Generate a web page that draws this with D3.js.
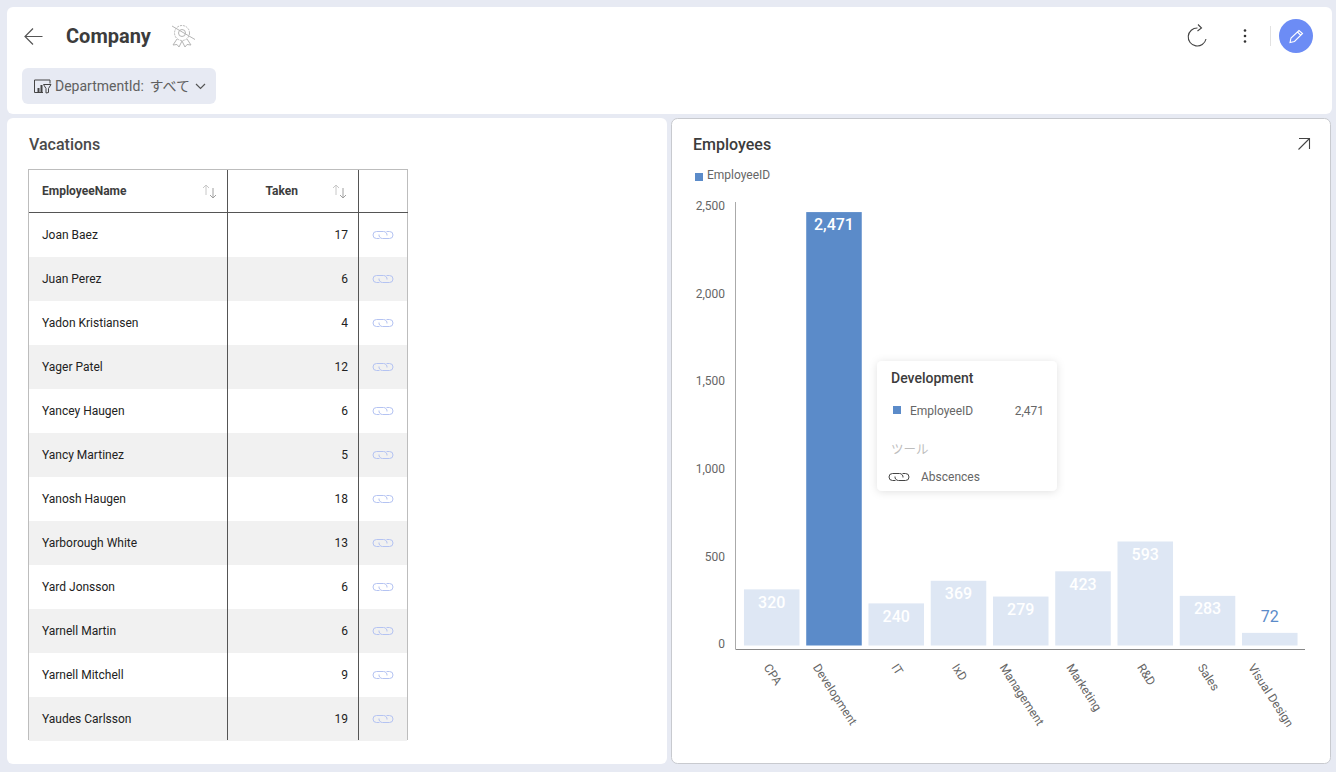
<!DOCTYPE html>
<html><head><meta charset="utf-8">
<script src="https://cdnjs.cloudflare.com/ajax/libs/d3/7.8.5/d3.min.js"></script>
<style>
html,body{margin:0;padding:0;background:#e7eaf3;overflow:hidden}
svg{display:block}
text{font-family:Roboto,"Noto Sans CJK JP",sans-serif}
</style></head><body><svg id="c" width="1336" height="772"></svg>
<script>
const categories=["CPA","Development","IT","IxD","Management","Marketing","R&D","Sales","Visual Design"];
const employeeValues=[320,2471,240,369,279,423,593,283,72];
const yTicks=[0,500,1000,1500,2000,2500];
const employeeNames=["Joan Baez","Juan Perez","Yadon Kristiansen","Yager Patel","Yancey Haugen","Yancy Martinez","Yanosh Haugen","Yarborough White","Yard Jonsson","Yarnell Martin","Yarnell Mitchell","Yaudes Carlsson"];
const taken=[17,6,4,12,6,5,18,13,6,6,9,19];
const highlighted="Development";

const svg=d3.select("#c");
const T=(s,x,y,t,o={})=>s.append("text").attr("x",x).attr("y",y).text(t)
  .attr("font-size",o.size||12).attr("fill",o.fill||"#555").attr("font-weight",o.weight||400)
  .attr("text-anchor",o.anchor||"start").attr("dominant-baseline","central");
const linkIcon=(s,cx,cy,color)=>{
  s.append("path").attr("fill","none").attr("stroke",color).attr("stroke-width",1)
   .attr("d",`M${cx+4} ${cy+0.5}A3.5 3.5 0 0 0 ${cx+0.5} ${cy-3.5}H${cx-6.5}A3.5 3.5 0 0 0 ${cx-6.5} ${cy+3.5}H${cx-3.5}`+
             `M${cx-4} ${cy-0.5}A3.5 3.5 0 0 0 ${cx-0.5} ${cy+3.5}H${cx+6.5}A3.5 3.5 0 0 0 ${cx+6.5} ${cy-3.5}H${cx+3.5}`);
};

// panels
svg.append("rect").attr("x",7).attr("y",7).attr("width",1325).attr("height",107).attr("rx",6).attr("fill","#fff");
svg.append("rect").attr("x",7).attr("y",118).attr("width",660).attr("height",646).attr("rx",6).attr("fill","#fff");
svg.append("rect").attr("x",671.5).attr("y",118.5).attr("width",659).attr("height",645).attr("rx",6).attr("fill","#fff").attr("stroke","#c8cacf");

// header
const hdr=svg.append("g");
hdr.append("path").attr("d","M42.5 36.5H25M33 28.5L25 36.5L33 44.5").attr("fill","none").attr("stroke","#555").attr("stroke-width",1.2);
T(hdr,66,36,"Company",{size:20,weight:700,fill:"#3c3c3c"});
const badge=hdr.append("g").attr("fill","none").attr("stroke","#b5b5b5").attr("stroke-width",1);
badge.append("circle").attr("cx",182).attr("cy",33).attr("r",7.5).attr("stroke-dasharray","2 1");
badge.append("circle").attr("cx",182).attr("cy",33).attr("r",3.5);
badge.append("path").attr("d","M177 39L173 45L177 44.5L179 47L182 41L185 47L187 44.5L191 45L187 39M172 26L195 39.5");
// filter chip
hdr.append("rect").attr("x",22).attr("y",68).attr("width",194).attr("height",36).attr("rx",6).attr("fill","#e7eaf3");
const fi=hdr.append("g").attr("fill","none").attr("stroke","#444").attr("stroke-width",1);
fi.append("path").attr("d","M43 92.5H34.5V80H50V83.5");
fi.append("path").attr("d","M43.5 84.5H51L48.5 88.5V92.5L46 93V88.5Z");
fi.append("path").attr("d","M38.5 92V88M41.5 92V85").attr("stroke-width",2);
T(hdr,55,86,"DepartmentId:",{size:14,fill:"#606060"});
T(hdr,149.5,85.5,"すべて",{size:14,fill:"#606060"});
hdr.append("path").attr("d","M196 84L200.5 88.5L205 84").attr("fill","none").attr("stroke","#555").attr("stroke-width",1.2);
// right icons
hdr.append("path").attr("d","M1197.5 28A9 9 0 1 0 1206 39M1198 24.5L1201.5 28L1197.5 31").attr("fill","none").attr("stroke","#444").attr("stroke-width",1.1);
hdr.selectAll("circle.dot").data([30.5,36,41.5]).join("circle").attr("class","dot").attr("cx",1245).attr("cy",d=>d).attr("r",1.3).attr("fill","#333");
hdr.append("line").attr("x1",1270.5).attr("x2",1270.5).attr("y1",26).attr("y2",46).attr("stroke","#e2e2e2");
hdr.append("circle").attr("cx",1296).attr("cy",36).attr("r",17).attr("fill","#6c8cf5");
hdr.append("path").attr("d","M1290 42.5L1291 38L1299 30.5L1302.5 33.5L1294.5 41.5ZM1297.5 32L1301 35.5").attr("fill","none").attr("stroke","#fff").attr("stroke-width",1.1);

// vacations
T(svg,29,144.5,"Vacations",{size:16,weight:500,fill:"#4a4a4a"});
const rowH=44,firstY=213,tableBottom=740;
const rows=svg.append("g");
rows.selectAll("rect").data(employeeNames).join("rect")
  .attr("x",29).attr("width",378).attr("y",(d,i)=>firstY+i*rowH).attr("height",rowH)
  .attr("fill",(d,i)=>i%2?"#f1f1f1":"#fff");
rows.selectAll("text.n").data(employeeNames).join("text").attr("class","n")
  .attr("x",42).attr("y",(d,i)=>firstY+i*rowH+22).attr("dominant-baseline","central")
  .attr("font-size",12).attr("fill","#222").text(d=>d);
rows.selectAll("text.v").data(taken).join("text").attr("class","v")
  .attr("x",348).attr("y",(d,i)=>firstY+i*rowH+22).attr("dominant-baseline","central").attr("text-anchor","end")
  .attr("font-size",12).attr("fill","#222").text(d=>d);
taken.forEach((d,i)=>linkIcon(rows,383,firstY+i*rowH+22,"#b4c3f2"));
const tl=svg.append("g").attr("shape-rendering","crispEdges");
tl.append("path").attr("d",`M28.5 ${tableBottom}V169.5H407.5V${tableBottom}`).attr("fill","none").attr("stroke","#bdbdbd");
tl.append("line").attr("x1",28.5).attr("x2",407.5).attr("y1",212.5).attr("y2",212.5).attr("stroke","#555");
[227.5,358.5].forEach(x=>tl.append("line").attr("x1",x).attr("x2",x).attr("y1",169.5).attr("y2",tableBottom).attr("stroke","#555"));
T(svg,42,191,"EmployeeName",{size:12,weight:700,fill:"#3d3d3d"});
T(svg,298,191,"Taken",{size:12,weight:700,fill:"#3d3d3d",anchor:"end"});
[203,333].forEach(x=>{
  svg.append("path").attr("d",`M${x+3} 195V185M${x} 188L${x+3} 185L${x+6} 188`).attr("fill","none").attr("stroke","#c8c8c8");
  svg.append("path").attr("d",`M${x+10} 188V198M${x+7} 195L${x+10} 198L${x+13} 195`).attr("fill","none").attr("stroke","#a0a0a0");
});

// employees chart
T(svg,693,144.5,"Employees",{size:16,weight:500,fill:"#3c3c3c"});
svg.append("path").attr("d","M1298.5 149.5L1309 139M1299 138.5H1309.5V149").attr("fill","none").attr("stroke","#444").attr("stroke-width",1.1);
svg.append("rect").attr("x",695).attr("y",173).attr("width",8).attr("height",8).attr("fill","#5b8bc9");
T(svg,707,174.5,"EmployeeID",{size:12,fill:"#666"});

const x=d3.scaleBand().domain(categories).range([740.6,1300.9]).paddingInner(0.108).paddingOuter(0.054);
const y=d3.scaleLinear().domain([0,2500]).range([645.5,207]);
const fmt=d3.format(",");

svg.append("g").selectAll("text").data(yTicks).join("text")
  .attr("x",725).attr("y",d=>y(d)-1.2).attr("text-anchor","end").attr("dominant-baseline","central")
  .attr("font-size",12).attr("fill","#666").text(fmt);

svg.append("g").selectAll("rect").data(categories).join("rect")
  .attr("x",d=>x(d)).attr("width",x.bandwidth())
  .attr("y",(d,i)=>y(employeeValues[i])).attr("height",(d,i)=>y(0)-y(employeeValues[i]))
  .attr("fill",d=>d===highlighted?"#5b8bc9":"#dee7f4");

svg.append("g").selectAll("text").data(categories).join("text")
  .attr("x",d=>x(d)+x.bandwidth()/2)
  .attr("y",(d,i)=>employeeValues[i]<100?y(employeeValues[i])-16:y(employeeValues[i])+12.8)
  .attr("text-anchor","middle").attr("dominant-baseline","central").attr("font-size",16)
  .attr("font-weight",(d,i)=>employeeValues[i]<100?400:500)
  .attr("fill",(d,i)=>employeeValues[i]<100?"#5b8bc9":"#fff")
  .text((d,i)=>fmt(employeeValues[i]));

svg.append("path").attr("d","M735.5 202V649").attr("stroke","#aaa").attr("fill","none");
svg.append("path").attr("d","M735.5 649.5H1305").attr("stroke","#888").attr("fill","none");

// rotated category labels: each label's horizontal extent is centred on its band
const labelAngle=57;
svg.append("g").selectAll("text").data(categories).join("text")
  .attr("font-size",12).attr("fill","#666").attr("dominant-baseline","central").text(d=>d)
  .attr("transform",function(d){
    const L=this.getComputedTextLength();
    const cx=x(d)+x.bandwidth()/2+1;
    return `translate(${cx-L*Math.cos(labelAngle*Math.PI/180)/2},${665}) rotate(${labelAngle})`;
  });

// tooltip
const defs=svg.append("defs");
const f=defs.append("filter").attr("id","sh").attr("x","-20%").attr("y","-20%").attr("width","140%").attr("height","140%");
f.append("feDropShadow").attr("dx",0).attr("dy",1).attr("stdDeviation",4).attr("flood-color","#000").attr("flood-opacity",0.12);
const tip=svg.append("g");
tip.append("rect").attr("x",877).attr("y",361).attr("width",180).attr("height",130).attr("rx",5).attr("fill","#fff").attr("filter","url(#sh)");
T(tip,891,378,highlighted,{size:14,weight:500,fill:"#3c3c3c"});
tip.append("rect").attr("x",893).attr("y",406).attr("width",8).attr("height",8).attr("fill","#5b8bc9");
T(tip,910,410.5,"EmployeeID",{size:12,fill:"#666"});
T(tip,1044,410.5,fmt(employeeValues[categories.indexOf(highlighted)]),{size:12,fill:"#666",anchor:"end"});
T(tip,891,449,"ツール",{size:12.5,fill:"#bdbdbd"});
linkIcon(tip,899,477,"#444");
T(tip,921,477,"Abscences",{size:12,fill:"#666"});
</script></body></html>
